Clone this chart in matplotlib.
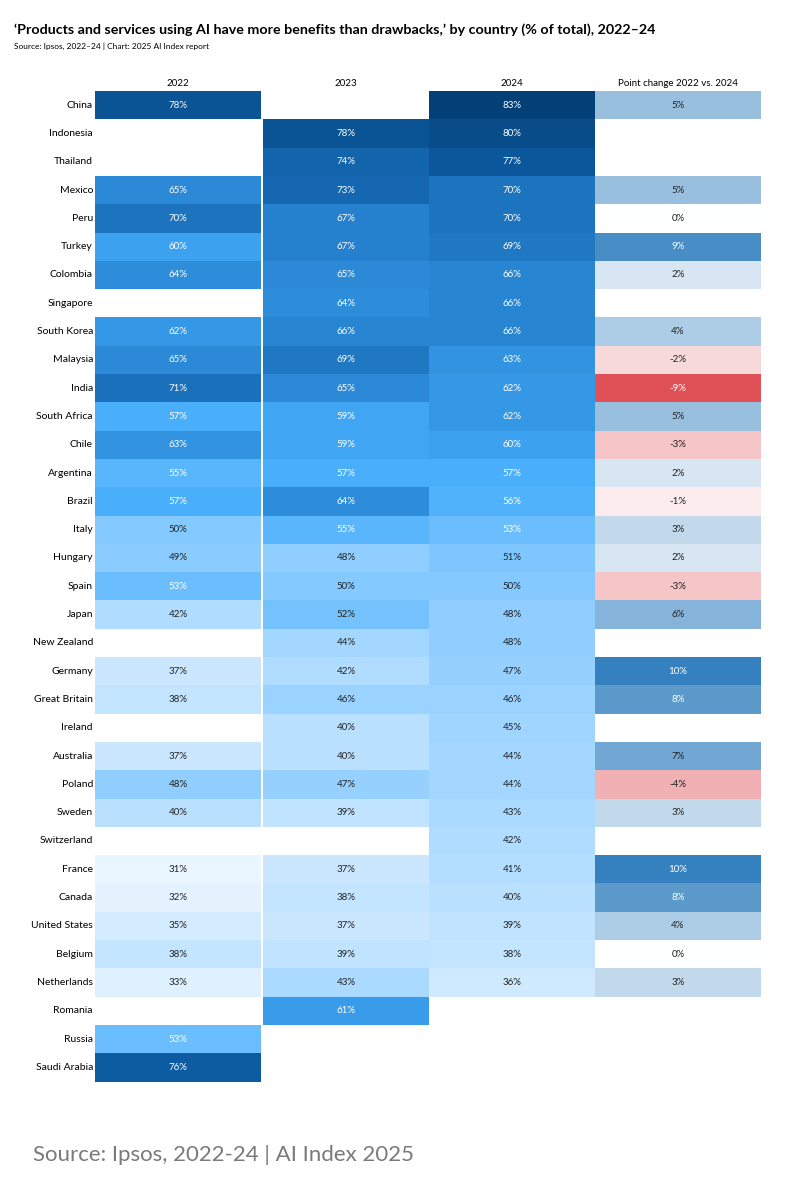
import matplotlib
matplotlib.use("Agg")
import matplotlib.pyplot as plt
from matplotlib.colors import LinearSegmentedColormap
from matplotlib.patches import Rectangle

plt.rcParams['font.family'] = ['Lato', 'DejaVu Sans']

countries = ["China", "Indonesia", "Thailand", "Mexico", "Peru", "Turkey", "Colombia",
             "Singapore", "South Korea", "Malaysia", "India", "South Africa", "Chile",
             "Argentina", "Brazil", "Italy", "Hungary", "Spain", "Japan", "New Zealand",
             "Germany", "Great Britain", "Ireland", "Australia", "Poland", "Sweden",
             "Switzerland", "France", "Canada", "United States", "Belgium", "Netherlands",
             "Romania", "Russia", "Saudi Arabia"]
N = None
y2022 = [78, N, N, 65, 70, 60, 64, N, 62, 65, 71, 57, 63, 55, 57, 50, 49, 53, 42, N,
         37, 38, N, 37, 48, 40, N, 31, 32, 35, 38, 33, N, 53, 76]
y2023 = [N, 78, 74, 73, 67, 67, 65, 64, 66, 69, 65, 59, 59, 57, 64, 55, 48, 50, 52, 44,
         42, 46, 40, 40, 47, 39, N, 37, 38, 37, 39, 43, 61, N, N]
y2024 = [83, 80, 77, 70, 70, 69, 66, 66, 66, 63, 62, 62, 60, 57, 56, 53, 51, 50, 48, 48,
         47, 46, 45, 44, 44, 43, 42, 41, 40, 39, 38, 36, N, N, N]
change = [5, N, N, 5, 0, 9, 2, N, 4, -2, -9, 5, -3, 2, -1, 3, 2, -3, 6, N,
          10, 8, N, 7, -4, 3, N, 10, 8, 4, 0, 3, N, N, N]
headers = ["2022", "2023", "2024", "Point change 2022 vs. 2024"]

blue = LinearSegmentedColormap.from_list("b", [
    (0.0, "#eef7ff"), (0.36, "#86caff"), (0.5, "#45adfb"),
    (0.64, "#2a88d6"), (0.82, "#0f5fa6"), (1.0, "#00386c")])
div = LinearSegmentedColormap.from_list("d", [
    (0.0, "#dd3f45"), (0.5, "#ffffff"), (1.0, "#3581bf")])

fig = plt.figure(figsize=(7.98, 12), dpi=100)
ax = fig.add_axes([0, 0, 1, 1])
ax.set_xlim(0, 798)
ax.set_ylim(1200, 0)
ax.axis("off")

col_x = [95, 263, 429, 595]
col_w = 166
top = 91
rh = 28.3

fig.text(14 / 798, 1 - 30 / 1200, "‘Products and services using AI have more benefits than drawbacks,’ by country (% of total), 2022–24",
         fontsize=10.3, fontweight="bold", va="center")
fig.text(14 / 798, 1 - 46 / 1200, "Source: Ipsos, 2022–24 | Chart: 2025 AI Index report",
         fontsize=6, va="center")
for x, h in zip(col_x, headers):
    ax.text(x + col_w / 2, 84, h, ha="center", va="center", fontsize=7)

for i, name in enumerate(countries):
    yc = top + rh * i + rh / 2
    ax.text(col_x[0] - 2, yc, name, ha="right", va="center", fontsize=7.5)
    for j, series in enumerate([y2022, y2023, y2024]):
        v = series[i]
        if v is None:
            continue
        ax.add_patch(Rectangle((col_x[j], top + rh * i), col_w, rh,
                               facecolor=blue((v - 30) / 55), edgecolor="none"))
        ax.text(col_x[j] + col_w / 2, yc, f"{v}%", ha="center", va="center", fontsize=7,
                color="white" if v >= 53 else "#222222")
    c = change[i]
    if c is not None:
        ax.add_patch(Rectangle((col_x[3], top + rh * i), col_w, rh,
                               facecolor=div((c + 10) / 20), edgecolor="none"))
        ax.text(col_x[3] + col_w / 2, yc, f"{c}%", ha="center", va="center", fontsize=7,
                color="white" if abs(c) >= 8 else "#222222")

ax.text(33, 1155, "Source: Ipsos, 2022-24 | AI Index 2025", fontsize=16,
        color="#7a7a7a", va="center")

fig.savefig("out.png", dpi=100)
